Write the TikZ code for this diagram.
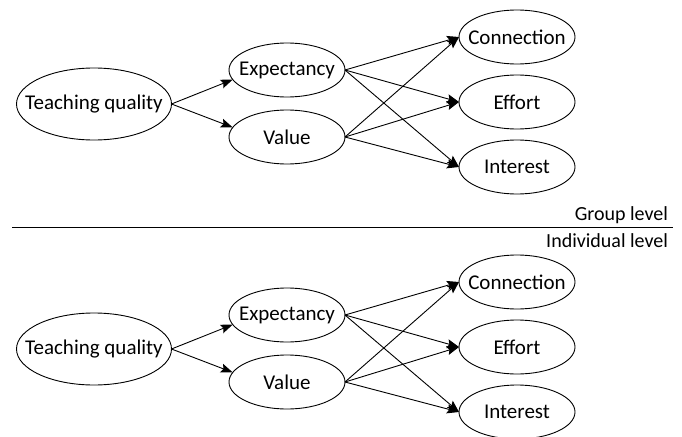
\documentclass[tikz,border=0pt]{standalone}
\usepackage{fontspec}
\setmainfont{Carlito}
\usetikzlibrary{shapes.geometric,arrows.meta}
\newcommand{\ellbl}[1]{\makebox[0pt]{#1}}
\begin{document}
\begin{tikzpicture}[x=1pt,y=-1pt,inner sep=0pt,outer sep=0pt,line width=0.9pt,
font=\fontsize{20}{24}\selectfont,
varblock/.style={draw,ellipse,minimum width=116pt,minimum height=54pt,font=\fontsize{21}{25}\selectfont},
srcblock/.style={varblock,minimum width=155pt,minimum height=72pt},
link/.style={-{Stealth[length=12pt,width=9pt,inset=2pt]}}]
\useasboundingbox (0,0) rectangle (682,436);
\foreach \lv/\dy in {g/0,i/245}{
\begin{scope}[yshift=-\dy pt]
\node[srcblock] (T\lv) at (94,104) {\ellbl{Teaching quality}};
\node[varblock] (E\lv) at (287,70) {\ellbl{Expectancy}};
\node[varblock] (V\lv) at (287,137) {\ellbl{Value}};
\node[varblock] (C\lv) at (517,37) {\ellbl{Connection}};
\node[varblock] (F\lv) at (517,102) {\ellbl{Effort}};
\node[varblock] (I\lv) at (517,167) {\ellbl{Interest}};
\draw[link] (T\lv.east) -- (E\lv.190);
\draw[link] (T\lv.east) -- (V\lv.170);
\draw[link] (E\lv.east) -- (C\lv.west);
\draw[link] (E\lv.east) -- (F\lv.west);
\draw[link] (E\lv.east) -- (I\lv.west);
\draw[link] (V\lv.east) -- (C\lv.west);
\draw[link] (V\lv.east) -- (F\lv.west);
\draw[link] (V\lv.east) -- (I\lv.west);
\end{scope}}
\node[anchor=base east] (grp) at (668,220) {Group level};
\node[anchor=base east] (ind) at (668,247) {Individual level};
\draw (12,227) -- (673,227);
\end{tikzpicture}
\end{document}
